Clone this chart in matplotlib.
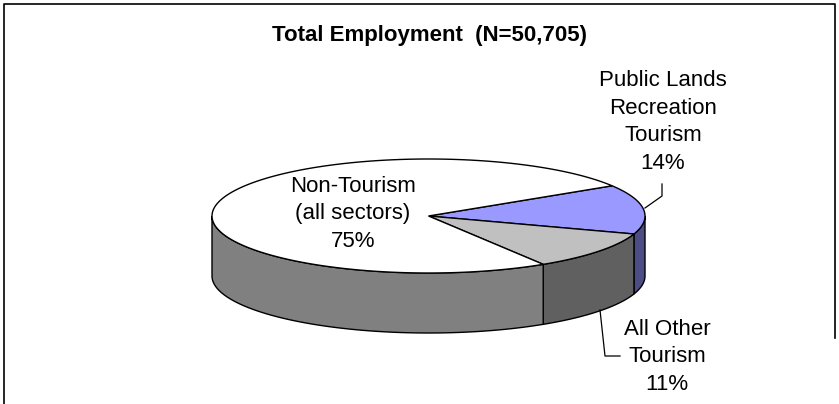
import numpy as np
import matplotlib.pyplot as plt
from matplotlib.patches import Polygon

plt.rcParams['font.family'] = ['Liberation Sans', 'DejaVu Sans']

title = "Total Employment  (N=50,705)"
labels = ["Public Lands\nRecreation\nTourism", "All Other\nTourism", "Non-Tourism\n(all sectors)"]
shares = [14, 11, 75]

top_colors = ["#9999FF", "#C0C0C0", "#FFFFFF"]
side_colors = ["#4D4D85", "#606060", "#808080"]

# pie geometry in pixel coords (y down)
cx, cy, a, b, depth = 428.5, 216, 216.5, 57, 60
start = 32.0

fig = plt.figure(figsize=(8.39, 4.04), dpi=100)
ax = fig.add_axes([0, 0, 1, 1])
ax.set_xlim(0, 839)
ax.set_ylim(404, 0)
ax.axis("off")


def pt(t):
    r = np.radians(t)
    return cx + a * np.cos(r), cy - b * np.sin(r)


# slices go clockwise from start angle
fracs = np.array(shares) / np.sum(shares) * 360
ends = start - np.cumsum(fracs)
begins = ends + fracs

# side walls (front half only)
for t_lo, t_hi, col in zip(ends, begins, side_colors):
    lo = t_lo % 360
    hi = lo + (t_hi - t_lo)
    for f0, f1 in [(180, 360), (540, 720)]:
        s0, s1 = max(lo, f0), min(hi, f1)
        if s1 <= s0:
            continue
        ts = np.linspace(s0, s1, 120)
        xs, ys = pt(ts)
        verts = list(zip(xs, ys)) + list(zip(xs[::-1], ys[::-1] + depth))
        ax.add_patch(Polygon(verts, closed=True, facecolor=col, edgecolor="black",
                             linewidth=1.0, zorder=2))

# tops
for t_lo, t_hi, col in zip(ends, begins, top_colors):
    ts = np.linspace(t_lo, t_hi, 300)
    xs, ys = pt(ts)
    verts = [(cx, cy)] + list(zip(xs, ys))
    ax.add_patch(Polygon(verts, closed=True, facecolor=col, edgecolor="black",
                         linewidth=1.0, zorder=3))

# labels
pcts = [f"{s}%" for s in shares]
txt = dict(ha="center", va="center", fontsize=16, linespacing=1.42, zorder=5)
ax.text(663, 122, labels[0] + "\n" + pcts[0], **txt)
ax.text(667, 357, labels[1] + "\n" + pcts[1], **txt)
ax.text(353, 214, labels[2] + "\n" + pcts[2], **txt)

# leader lines
ax.plot([662, 662, 645], [184, 196, 208], color="black", lw=0.9, zorder=4)
ax.plot([600, 605, 620], [310, 356, 356], color="black", lw=0.9, zorder=4)

ax.text(429, 35, title, ha="center", va="center", fontsize=16,
        fontweight="bold", zorder=5)

# chart frame
ax.plot([4, 4, 835, 835], [404, 4, 4, 338], color="black", lw=1.2, zorder=1)

fig.savefig("out.png", dpi=100)
